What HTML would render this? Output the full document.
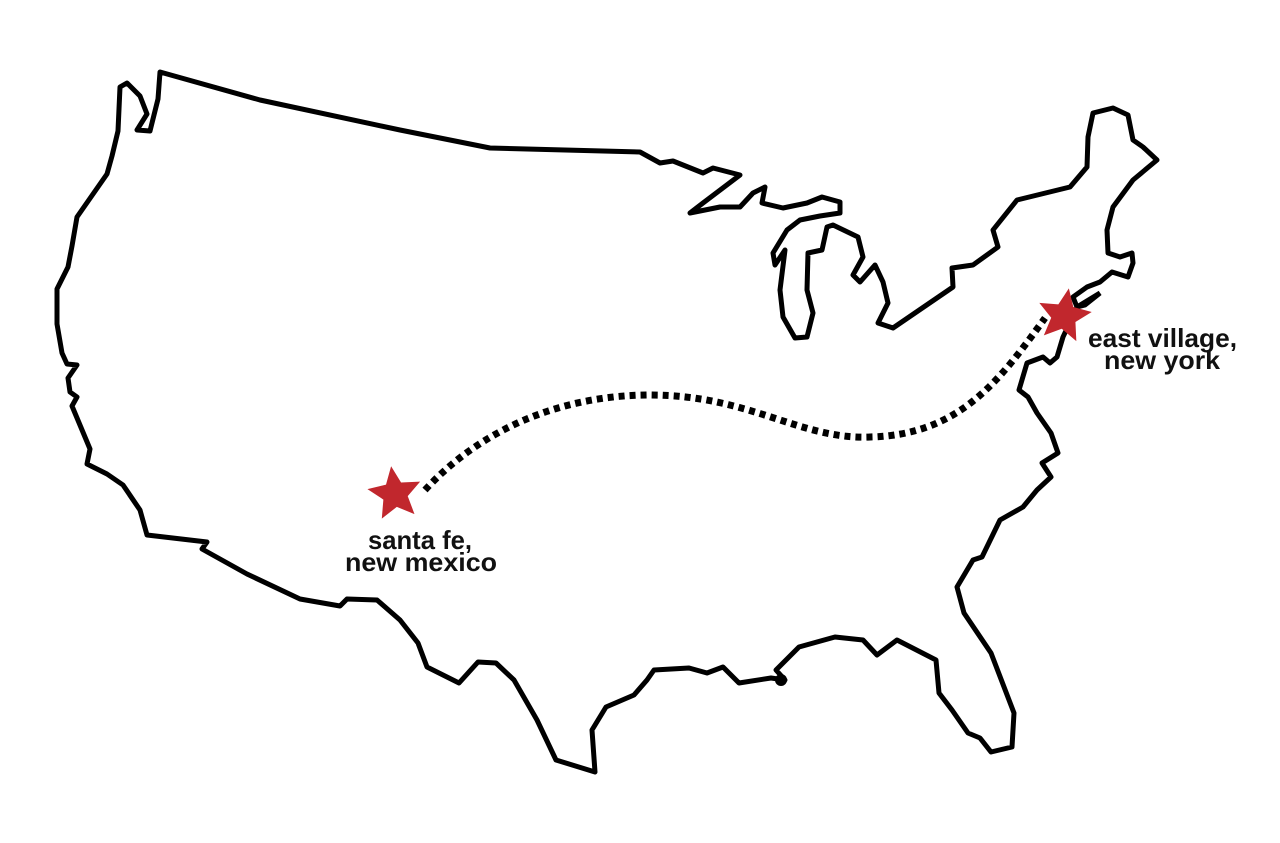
<!DOCTYPE html>
<html><head><meta charset="utf-8"><style>
html,body{margin:0;padding:0;background:#fff;}
svg{display:block;}
text{font-family:"Liberation Sans",sans-serif;font-weight:bold;font-size:26px;fill:#111;}
</style></head><body>
<svg width="1280" height="843" viewBox="0 0 1280 843">
<path fill="none" stroke="#000" stroke-width="5" stroke-linejoin="round" stroke-linecap="round" d="
M160,72 L158,99 L150,131 L137,130 L147,114 L140,96 L127,83 L120,87 L118,131 L112,156 L107,174 L77,217 L72,246 L68,267 L57,289 L57,324 L62,353 L67,364 L77,365 L68,378 L70,392 L77,397 L72,406 L90,449 L87,464 L107,474 L123,485 L140,510 L147,535 L207,542 L202,549 L247,574 L300,599 L340,606 L347,599 L377,600 L400,620 L418,643 L427,667 L459,683 L478,662 L496,663 L514,680 L537,720 L556,760 L595,772 L592,730 L606,707 L634,695 L647,680 L654,670 L689,668 L707,673 L723,667 L739,683 L771,678 L785,680 L776,670 L799,647 L835,637 L863,640 L877,655 L897,640 L936,660 L939,693 L952,710 L968,733 L980,738 L991,752 L1012,747 L1014,713 L991,653 L964,613 L957,587 L973,560 L982,557 L1000,520 L1023,507 L1037,490 L1051,477 L1042,463 L1058,453 L1051,433 L1037,413 L1028,397 L1019,390 L1027,363 L1043,357 L1050,363 L1057,357 L1063,337 L1077,307 L1073,297 L1087,287 L1100,282 L1112,272 L1128,277 L1133,263 L1132,253 L1120,257 L1108,253 L1107,230 L1113,207 L1133,180 L1157,160 L1143,147 L1133,140 L1128,115 L1113,108 L1093,113 L1088,137 L1087,167 L1070,187 L1017,200 L993,230 L998,247 L973,265 L952,268 L953,287 L893,328 L878,323 L888,303 L883,282 L875,265 L860,282 L853,275 L863,257 L858,237 L833,225 L827,227 L822,250 L808,253 L807,290 L813,313 L807,337 L795,338 L783,317 L780,290 L785,250 L775,265 L773,253 L787,230 L800,220 L820,216 L840,213 L840,202 L822,197 L807,203 L783,208 L762,203 L765,187 L753,193 L740,207 L720,207 L690,213 L703,203 L740,175 L713,168 L703,173 L673,161 L660,163 L640,152 L490,148 L400,130 L260,100 Z"/>
<circle cx="781" cy="680" r="6" fill="#000"/>
<path d="M1077,307 L1100,293 L1085,305 Z" fill="#000" stroke="#000" stroke-width="5"/>
<path fill="none" stroke="#000" stroke-width="7" stroke-dasharray="6 5" d="M425,490 C480,430 560,395 650,395 C750,395 800,440 870,437 C960,435 1000,380 1045,318"/>
<g fill="#c1272d">
<polygon transform="translate(395,494) rotate(-8)" points="0,-28 7.6,-10.5 26.6,-8.7 12.3,3.9 16.5,22.6 0,13 -16.5,22.6 -12.3,3.9 -26.6,-8.7 -7.6,-10.5"/>
<polygon transform="translate(1064,316) rotate(10)" points="0,-28 7.6,-10.5 26.6,-8.7 12.3,3.9 16.5,22.6 0,13 -16.5,22.6 -12.3,3.9 -26.6,-8.7 -7.6,-10.5"/>
</g>
<text x="368" y="549" textLength="104" lengthAdjust="spacingAndGlyphs">santa fe,</text>
<text x="345" y="571" textLength="152" lengthAdjust="spacingAndGlyphs">new mexico</text>
<text x="1088" y="347" textLength="149" lengthAdjust="spacingAndGlyphs">east village,</text>
<text x="1104" y="369" textLength="116" lengthAdjust="spacingAndGlyphs">new york</text>
</svg>
</body></html>
